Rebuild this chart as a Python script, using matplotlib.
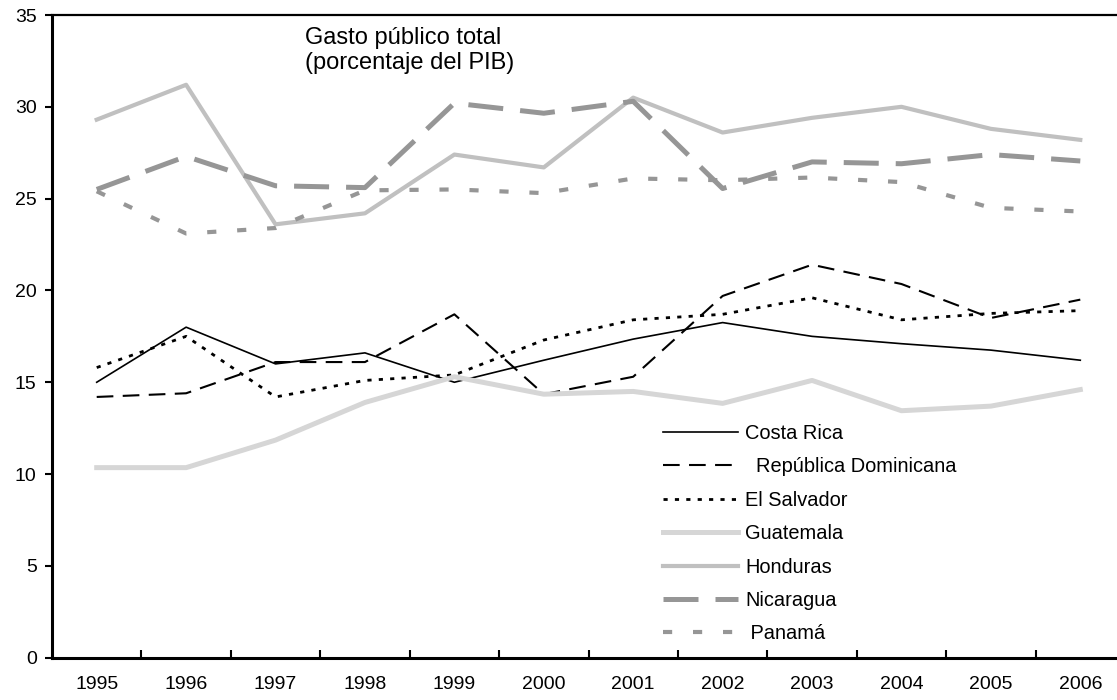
import matplotlib
matplotlib.use('Agg')
import matplotlib.pyplot as plt
import numpy as np

plt.rcParams['font.family'] = ['Liberation Sans', 'DejaVu Sans']

# Data (percent of GDP).
years = ['1995', '1996', '1997', '1998', '1999', '2000',
         '2001', '2002', '2003', '2004', '2005', '2006']
costaRica = [15.0, 18.0, 16.0, 16.6, 15.0, 16.2, 17.35, 18.25, 17.5, 17.1, 16.75, 16.2]
repDominicana = [14.2, 14.4, 16.1, 16.1, 18.7, 14.35, 15.3, 19.7, 21.4, 20.35, 18.5, 19.5]
elSalvador = [15.8, 17.5, 14.2, 15.1, 15.4, 17.3, 18.4, 18.7, 19.6, 18.4, 18.75, 18.9]
guatemala = [10.35, 10.35, 11.85, 13.9, 15.3, 14.35, 14.5, 13.85, 15.1, 13.45, 13.7, 14.6]
honduras = [29.3, 31.2, 23.6, 24.2, 27.4, 26.7, 30.5, 28.6, 29.4, 30.0, 28.8, 28.2]
nicaragua = [25.5, 27.3, 25.7, 25.6, 30.2, 29.65, 30.3, 25.55, 27.0, 26.9, 27.4, 27.05]
panama = [25.4, 23.1, 23.4, 25.45, 25.5, 25.3, 26.1, 26.0, 26.15, 25.9, 24.5, 24.3]

x = np.arange(len(years))

fig = plt.figure(figsize=(11.17, 7.0), dpi=100)
# The category axis runs a bit past the right edge of the picture.
ax = fig.add_axes([52 / 1117, 42.3 / 700, 1073 / 1117, 642.7 / 700])

ax.plot(x, costaRica, color='black', lw=1.2, label='Costa Rica')
ax.plot(x, repDominicana, color='black', lw=1.5, linestyle=(0, (8, 4.5)),
        label='  República Dominicana')
ax.plot(x, elSalvador, color='black', lw=2.0, linestyle=(0, (1.5, 2.6)),
        label='El Salvador')
ax.plot(x, guatemala, color='#d6d6d6', lw=3.6, label='Guatemala')
ax.plot(x, honduras, color='#c0c0c0', lw=3.0, label='Honduras')
ax.plot(x, nicaragua, color='#969696', lw=3.6, linestyle=(0, (7, 3.4)),
        label='Nicaragua')
ax.plot(x, panama, color='#969696', lw=3.0, linestyle=(0, (2.2, 5.0)),
        label=' Panamá')

ax.set_xlim(-0.5, len(years) - 0.5)
ax.set_ylim(0, 35)
ax.set_yticks(np.arange(0, 36, 5))
ax.set_xticks(x)
ax.set_xticklabels(years)
ax.set_xticks(np.arange(0.5, len(years) - 0.5, 1.0), minor=True)
ax.tick_params(axis='x', which='major', length=0, pad=13, labelsize=14)
ax.tick_params(axis='x', which='minor', direction='in', length=6, width=1.5)
ax.tick_params(axis='y', direction='out', length=5, width=1.5, labelsize=14, pad=6)

for side in ['left', 'bottom']:
    ax.spines[side].set_linewidth(2.2)
ax.spines['top'].set_linewidth(1.6)
ax.spines['right'].set_visible(False)

ax.text((305 - 52) / 1073, 0.982,
        'Gasto público total\n(porcentaje del PIB)',
        transform=ax.transAxes, ha='left', va='top', fontsize=17, linespacing=1.22)

ax.legend(loc='upper left', bbox_to_anchor=(663 / 1117, 1 - 424 / 700),
          bbox_transform=fig.transFigure, frameon=False, fontsize=14.4,
          handlelength=3.75, handletextpad=0.35, labelspacing=0.72,
          borderpad=0, borderaxespad=0)

plt.savefig('out.png', dpi=100)
